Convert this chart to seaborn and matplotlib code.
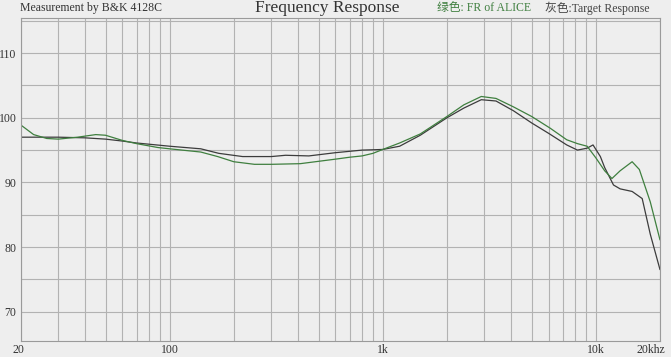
import numpy as np
import pandas as pd
import matplotlib
matplotlib.use("Agg")
import matplotlib.pyplot as plt
import matplotlib.transforms as mtransforms
import seaborn as sns

# ---- data ----
alice_freq = [20, 23, 26.5, 30, 37, 45, 50, 60, 70, 88, 100, 140, 168, 200, 250, 300,
              410, 600, 700, 800, 900, 1000, 1200, 1500, 2000, 2400, 2900, 3400, 4100,
              5000, 6100, 7300, 8200, 9100, 10000, 11000, 11900, 13000, 14800, 16000,
              18000, 20000]
alice_db = [98.9, 97.4, 96.8, 96.7, 97.0, 97.4, 97.3, 96.5, 96.0, 95.4, 95.2, 94.7, 94.0,
            93.2, 92.8, 92.8, 92.9, 93.6, 93.9, 94.1, 94.5, 95.1, 96.1, 97.5, 100.2,
            102.0, 103.3, 103.0, 101.7, 100.2, 98.4, 96.6, 96.0, 95.6, 93.8, 91.8, 90.6,
            91.8, 93.2, 92.0, 87.0, 81.1]

target_freq = [20, 30, 40, 50, 60, 70, 100, 140, 170, 220, 300, 350, 450, 600, 800, 1000,
               1200, 1500, 2000, 2400, 2900, 3400, 4100, 5000, 6000, 7300, 8200, 9100,
               9700, 10500, 11000, 12100, 13000, 14800, 16500, 18000, 20000]
target_db = [97.0, 97.0, 96.9, 96.7, 96.4, 96.1, 95.6, 95.2, 94.5, 94.0, 94.0, 94.2, 94.1,
             94.6, 95.0, 95.1, 95.6, 97.3, 100.0, 101.5, 102.8, 102.6, 101.1, 99.2, 97.6,
             95.8, 95.0, 95.3, 95.8, 94.0, 92.3, 89.6, 89.0, 88.6, 87.5, 82.0, 76.5]

x_tick_vals = [20, 100, 1000, 10000, 20000]
x_tick_labels = ["20", "100", "1k", "10k", "20khz"]
y_tick_vals = [70, 80, 90, 100, 110]

bg = "#eeeeee"
grid_c = "#b2b2b2"
green = "#3f7f3f"
dark = "#3c3c3c"

sns.set_theme(style="white")
plt.rcParams["font.family"] = ["Liberation Serif", "Noto Sans CJK SC", "DejaVu Sans"]

fig = plt.figure(figsize=(6.71, 3.57), dpi=100, facecolor=bg)
ax = fig.add_axes([20.7 / 671, 1 - 340.7 / 357, (660 - 20.7) / 671, (340.7 - 18.3) / 357])
ax.set_facecolor(bg)

df_t = pd.DataFrame({"freq": target_freq, "db": target_db})
df_a = pd.DataFrame({"freq": alice_freq, "db": alice_db})
sns.lineplot(data=df_t, x="freq", y="db", ax=ax, color=dark, lw=0.9, sort=True)
sns.lineplot(data=df_a, x="freq", y="db", ax=ax, color=green, lw=0.9, sort=True)

ax.set_xscale("log")
ax.set_xlim(20, 20000)
ax.set_ylim(65.5, 115.4)

minor_x = [f for dec in (10, 100, 1000) for f in [dec * k for k in range(2, 10)]
           if 20 < f < 20000 and f not in x_tick_vals]
ax.set_xticks(x_tick_vals)
ax.set_xticklabels(x_tick_labels)
ax.set_xticks(minor_x, minor=True)
ax.set_xticklabels([], minor=True)
ax.set_yticks(y_tick_vals)
ax.set_yticks([75, 85, 95, 105, 115], minor=True)
ax.set_yticklabels([str(v) for v in y_tick_vals])

ax.grid(True, which="both", color=grid_c, lw=0.8)
ax.tick_params(which="both", length=0, labelsize=8.5, labelcolor="#333333")
ax.tick_params(axis="x", pad=2.5)
ax.tick_params(axis="y", pad=3)
for s in ax.spines.values():
    s.set_color("#9a9a9a")
    s.set_linewidth(0.8)
ax.set_xlabel("")
ax.set_ylabel("")

# shift the edge labels the way the reference places them
xlabels = ax.get_xticklabels()
xlabels[0].set_transform(xlabels[0].get_transform() +
                         mtransforms.ScaledTranslation(-2 / 100, 0, fig.dpi_scale_trans))
xlabels[-1].set_transform(xlabels[-1].get_transform() +
                          mtransforms.ScaledTranslation(-9 / 100, 0, fig.dpi_scale_trans))

fig.text(20 / 671, 1 - 8 / 357, "Measurement by B&K 4128C", fontsize=8.5,
         color="#333333", ha="left", va="center")
fig.text(327 / 671, 1 - 8 / 357, "Frequency Response", fontsize=12.5,
         color="#333333", ha="center", va="center")
fig.text(437 / 671, 1 - 8 / 357, "绿色: FR of ALICE", fontsize=8.5,
         color=green, ha="left", va="center")
fig.text(545 / 671, 1 - 8 / 357, "灰色:Target Response", fontsize=8.5,
         color="#444444", ha="left", va="center")

fig.savefig("out.png", dpi=100, facecolor=bg)
